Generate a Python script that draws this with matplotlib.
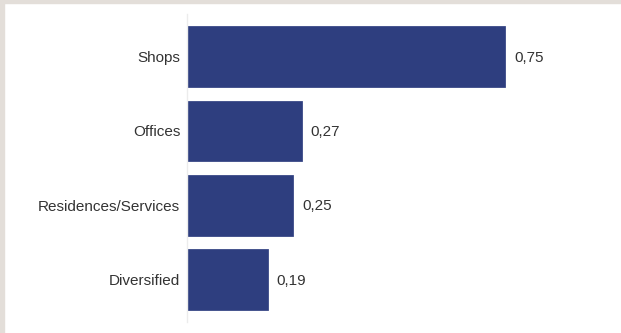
import matplotlib
matplotlib.use("Agg")
import matplotlib.pyplot as plt
from matplotlib.patches import Rectangle

categories = ["Shops", "Offices", "Residences/Services", "Diversified"]
values = [0.75, 0.27, 0.25, 0.19]
value_labels = ["0,75", "0,27", "0,25", "0,19"]

bar_color = "#2e3e7f"
text_color = "#333333"
frame_color = "#e3ded9"

plt.rcParams['font.family'] = ['Liberation Sans', 'DejaVu Sans']

fig = plt.figure(figsize=(6.21, 3.33), dpi=100)
fig.patch.set_facecolor("white")

# light frame strips on top and left edges
fig.patches.append(Rectangle((0, 1 - 3 / 333), 1, 3 / 333, transform=fig.transFigure,
                             color=frame_color, zorder=0))
fig.patches.append(Rectangle((0, 0), 4 / 621, 1, transform=fig.transFigure,
                             color=frame_color, zorder=0))

ax = fig.add_axes([187.3 / 621, 11 / 333, 424 / 621, 308 / 333])
ax.set_facecolor("none")

y = range(len(categories))
ax.barh(y, values, height=0.82, color=bar_color, edgecolor="#3a4a88", linewidth=0.6)

for yi, v, lab in zip(y, values, value_labels):
    ax.annotate(lab, (v, yi), xytext=(9, -1), textcoords="offset pixels",
                va="center", ha="left", fontsize=11, color=text_color)

ax.set_xlim(0, 1)
ax.set_ylim(3.572, -0.575)
ax.set_yticks(list(y))
ax.set_yticklabels(categories, fontsize=11, color=text_color)
ax.tick_params(axis="y", length=0, pad=5)
ax.set_xticks([])

for side in ["top", "right", "bottom"]:
    ax.spines[side].set_visible(False)
ax.spines["left"].set_color("#ececec")
ax.spines["left"].set_linewidth(1)

fig.savefig("out.png", dpi=100, facecolor=fig.get_facecolor())
